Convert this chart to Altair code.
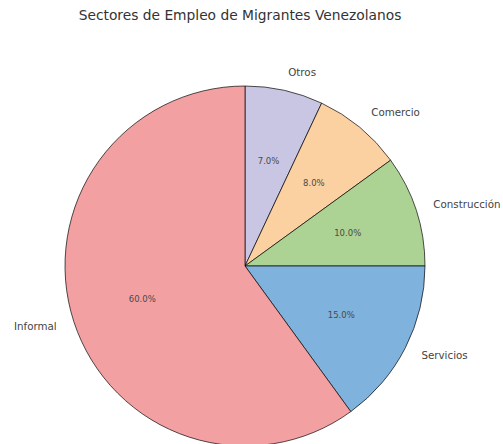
import altair as alt
import pandas as pd

categories = ["Otros", "Comercio", "Construcción", "Servicios", "Informal"]
values = [7.0, 8.0, 10.0, 15.0, 60.0]
colors = ["#c8c6e3", "#fbd1a2", "#add394", "#7fb2dc", "#f2a0a1"]
align_side = ["left", "left", "left", "left", "right"]

df = pd.DataFrame({
    "sector": categories,
    "value": values,
    "order": list(range(len(categories))),
    "side": align_side,
})

CX, CY = 245, 230
R = 180

base = alt.Chart(df).transform_window(
    cum="sum(value)", sort=[alt.SortField("order")], frame=[None, 0]
).transform_calculate(
    start="datum.cum - datum.value",
    mid="datum.cum - datum.value / 2",
    pct="format(datum.value, '.1f') + '%'",
)

theta_scale = alt.Scale(domain=[0, 100], range=[0, 6.283185307179586], zero=True, nice=False)

arcs = base.mark_arc(
    x=CX, y=CY, outerRadius=R, stroke="#000000", strokeWidth=0.8, strokeOpacity=0.85
).encode(
    theta=alt.Theta("start:Q", scale=theta_scale),
    theta2="cum:Q",
    color=alt.Color("sector:N", scale=alt.Scale(domain=categories, range=colors), legend=None),
)

labels_right = base.transform_filter("datum.side == 'left'").mark_text(
    x=CX, y=CY, radius=198, align="left", baseline="middle",
    font="DejaVu Sans", fontSize=10.3, color="#444444"
).encode(
    theta=alt.Theta("mid:Q", scale=theta_scale),
    text="sector:N",
)

labels_left = base.transform_filter("datum.side == 'right'").mark_text(
    x=CX, y=CY, radius=198, align="right", baseline="middle",
    font="DejaVu Sans", fontSize=10.3, color="#444444"
).encode(
    theta=alt.Theta("mid:Q", scale=theta_scale),
    text="sector:N",
)

pcts = base.mark_text(
    x=CX, y=CY, radius=108, align="center", baseline="middle",
    font="DejaVu Sans", fontSize=8.5, color="#4a4a4a"
).encode(
    theta=alt.Theta("mid:Q", scale=theta_scale),
    text="pct:N",
)

chart = alt.layer(arcs, labels_right, labels_left, pcts).properties(
    width=480,
    height=408,
    title=alt.TitleParams(
        "Sectores de Empleo de Migrantes Venezolanos",
        font="DejaVu Sans", fontSize=13.8, fontWeight="normal", color="#333333",
        anchor="middle", offset=13,
    ),
    padding={"left": 0, "top": 36, "right": 23, "bottom": 0},
    autosize=alt.AutoSizeParams(type="none"),
).configure_view(stroke=None).configure(background="white")

chart.save("out.html", embed_options={"renderer": "svg", "actions": False})
